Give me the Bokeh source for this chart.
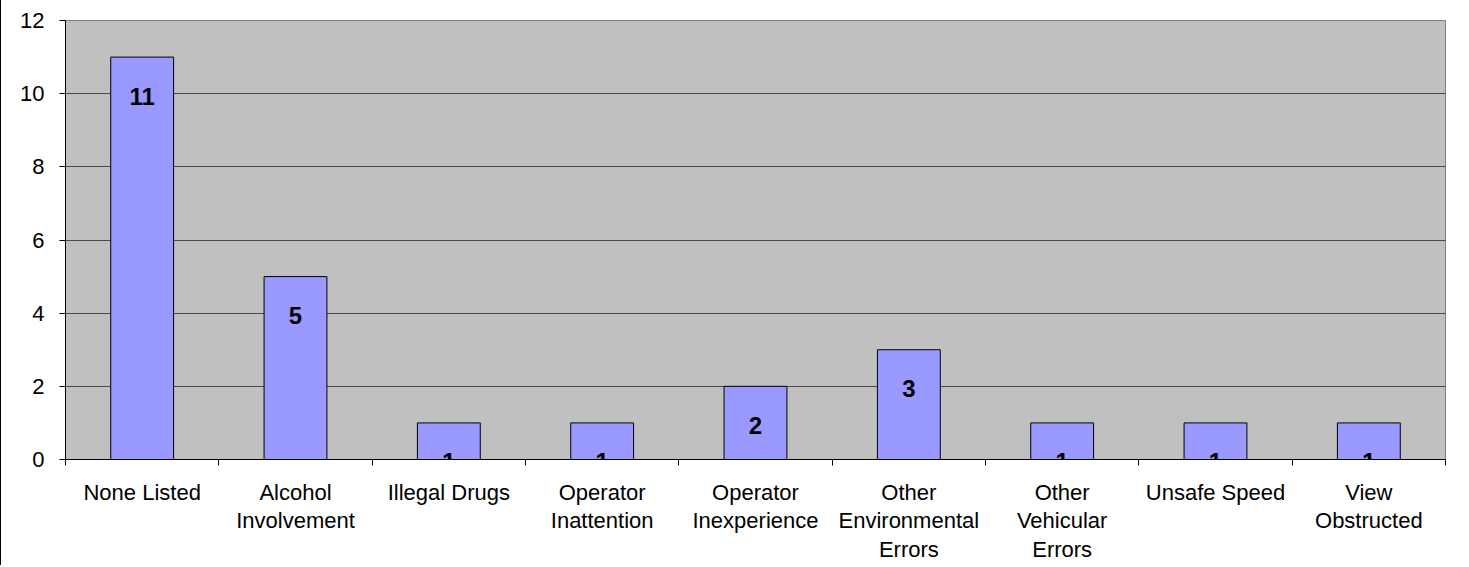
from bokeh.plotting import figure
from bokeh.models import Range1d, LinearAxis, FixedTicker, ColumnDataSource
from bokeh.core.properties import value
from bokeh.embed import file_html
from bokeh.resources import INLINE

categories = ["None Listed", "Alcohol\nInvolvement", "Illegal Drugs", "Operator\nInattention",
              "Operator\nInexperience", "Other\nEnvironmental\nErrors", "Other\nVehicular\nErrors",
              "Unsafe Speed", "View\nObstructed"]
counts = [11, 5, 1, 1, 2, 3, 1, 1, 1]
y_ticks = [0, 2, 4, 6, 8, 10, 12]

FONT = "Liberation Sans"
n = len(categories)
centers = [i + 0.5 for i in range(n)]

src = ColumnDataSource(dict(x=centers, val=counts, lab=[str(v) for v in counts]))

p = figure(width=1466, height=565, output_backend="svg", toolbar_location=None,
           x_range=Range1d(0, n), y_range=Range1d(0, 12),
           x_axis_location=None, y_axis_location=None,
           min_border_left=64, min_border_right=22, min_border_top=20, min_border_bottom=105)
p.styles = {"border-left": "1px solid black"}
p.background_fill_color = "#C0C0C0"
p.border_fill_color = "white"
p.outline_line_color = "#808080"
p.outline_line_width = 1
p.xgrid.grid_line_color = None
p.ygrid.grid_line_color = "#4a4a4a"
p.ygrid.ticker = FixedTicker(ticks=y_ticks)

p.vbar(x="x", top="val", width=0.41, source=src, fill_color="#9999FF", line_color="black", line_width=1)
p.text(x="x", y="val", text="lab", source=src, y_offset=39, text_align="center",
       text_baseline="middle", text_font=value(FONT), text_font_style="bold",
       text_font_size="24px", text_color="black")

yaxis = LinearAxis(ticker=FixedTicker(ticks=y_ticks))
yaxis.axis_line_color = "black"
yaxis.major_tick_line_color = "black"
yaxis.major_tick_out = 6
yaxis.major_tick_in = 0
yaxis.minor_tick_line_color = None
yaxis.major_label_text_font = FONT
yaxis.major_label_text_font_size = "22px"
yaxis.major_label_text_color = "black"
yaxis.major_label_standoff = 15
p.add_layout(yaxis, "left")

tick_axis = LinearAxis(ticker=FixedTicker(ticks=list(range(n + 1))))
tick_axis.axis_line_color = "black"
tick_axis.major_tick_line_color = "black"
tick_axis.major_tick_out = 6
tick_axis.major_tick_in = 0
tick_axis.minor_tick_line_color = None
tick_axis.major_label_text_font_size = "0px"
tick_axis.major_label_text_color = None
tick_axis.major_label_standoff = 0
p.add_layout(tick_axis, "below")

cat_axis = LinearAxis(ticker=FixedTicker(ticks=centers))
cat_axis.major_label_overrides = {c: name for c, name in zip(centers, categories)}
cat_axis.axis_line_color = None
cat_axis.major_tick_line_color = None
cat_axis.major_tick_out = 0
cat_axis.major_tick_in = 0
cat_axis.minor_tick_line_color = None
cat_axis.major_label_text_font = FONT
cat_axis.major_label_text_font_size = "22px"
cat_axis.major_label_text_color = "black"
cat_axis.major_label_standoff = 14
cat_axis.major_label_text_line_height = 1.15
p.add_layout(cat_axis, "below")

open("out.html", "w").write(file_html(p, INLINE))
